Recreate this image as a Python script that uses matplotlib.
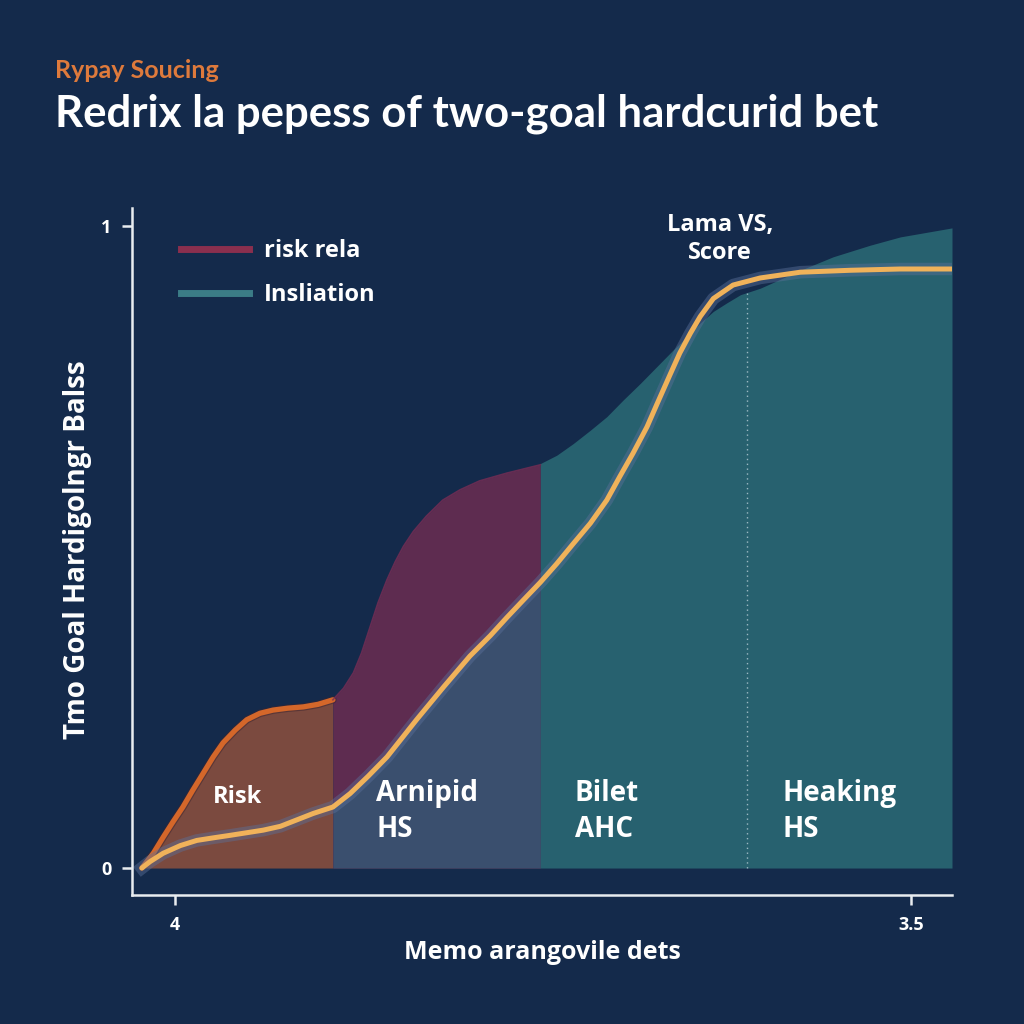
import numpy as np
import matplotlib
matplotlib.use('Agg')
import matplotlib.pyplot as plt
from matplotlib.lines import Line2D

plt.rcParams['font.family'] = ['Open Sans', 'DejaVu Sans']

# values (x on a 0-100 scale, y on 0-1)
risk_x = [1.2, 2.6, 3.8, 5.0, 6.2, 7.4, 8.7, 9.9, 11.1, 12.6, 14.0, 15.6, 17.2, 19.0, 20.9, 22.7, 24.5]
risk_y = [0.0, 0.023, 0.048, 0.072, 0.095, 0.121, 0.148, 0.173, 0.195, 0.215, 0.231, 0.241,
          0.246, 0.249, 0.251, 0.255, 0.262]

rela_x = [24.5, 25.8, 27.0, 28.0, 29.0, 30.0, 31.1, 32.1, 33.1, 34.3, 35.9, 37.9, 40.0, 42.4, 45.7, 49.8]
rela_y = [0.262, 0.280, 0.304, 0.335, 0.374, 0.413, 0.449, 0.477, 0.501, 0.524, 0.548, 0.573,
          0.589, 0.603, 0.615, 0.628]

insl_x = [49.8, 51.8, 53.8, 55.9, 57.9, 59.9, 62.0, 64.0, 66.0, 67.7, 69.3, 70.9, 72.5, 74.2,
          76.6, 81.5, 85.5, 90.0, 93.7, 100]
insl_y = [0.630, 0.643, 0.661, 0.682, 0.703, 0.729, 0.755, 0.781, 0.807, 0.828, 0.849, 0.867,
          0.880, 0.893, 0.903, 0.931, 0.952, 0.970, 0.983, 0.997]

score_x = [1.2, 2.2, 3.8, 5.9, 7.9, 9.9, 12.0, 14.0, 16.0, 18.1, 20.1, 22.1, 24.5, 26.6, 28.8,
           31.1, 34.7, 38.0, 41.2, 43.7, 45.7, 47.7, 49.8, 51.8, 53.8, 55.9, 57.9, 59.5, 61.1,
           62.8, 64.0, 65.6, 66.8, 68.1, 69.3, 70.9, 73.3, 76.6, 81.5, 87.6, 93.7, 100]
score_y = [0.0, 0.010, 0.023, 0.035, 0.043, 0.047, 0.051, 0.055, 0.059, 0.065, 0.075, 0.085,
           0.095, 0.116, 0.143, 0.173, 0.231, 0.282, 0.330, 0.362, 0.390, 0.417, 0.445, 0.474,
           0.505, 0.537, 0.573, 0.610, 0.646, 0.687, 0.722, 0.768, 0.802, 0.833, 0.859, 0.887,
           0.908, 0.919, 0.928, 0.931, 0.933, 0.933]

split_lo, split_hi = 24.5, 49.8
marker_x = 75.0

x_ticks = [5.2, 95.0]
x_tick_labels = ['4', '3.5']
y_ticks = [0, 1]
y_tick_labels = ['0', '1']

legend_labels = ['risk rela', 'Insliation']

bg = '#142a4b'
c_orange_fill = '#7b4a3f'
c_orange_edge = '#d4672a'
c_maroon = '#5e2c50'
c_slate = '#3a4f6e'
c_teal = '#27616f'
c_yellow = '#f0b25a'

fig = plt.figure(figsize=(10.24, 10.24), dpi=100, facecolor=bg)
ax = fig.add_axes([132 / 1024, 129 / 1024, 820 / 1024, 687 / 1024])
ax.set_facecolor(bg)

# stacked regions
ax.fill_between(risk_x, 0, risk_y, color=c_orange_fill, lw=0)
ax.plot(risk_x, risk_y, color='#3a2430', lw=5.5, alpha=0.5, solid_capstyle='round')
ax.plot(risk_x, risk_y, color=c_orange_edge, lw=3.8, solid_capstyle='round')
ax.fill_between(rela_x, 0, rela_y, color=c_maroon, lw=0)
ax.plot(rela_x, rela_y, color='#7a2d55', lw=1.2, alpha=0.8)

sx = np.array(score_x)
sy = np.array(score_y)
m = (sx >= split_lo) & (sx <= split_hi)
ax.fill_between(sx[m], 0, sy[m], color=c_slate, lw=0)

ax.fill_between(insl_x, 0, insl_y, color=c_teal, lw=0)

# score line with soft glow
ax.plot(score_x, score_y, color='#5b7099', lw=9, alpha=0.45, solid_joinstyle='round')
ax.plot(score_x, score_y, color=c_yellow, lw=3.6, solid_joinstyle='round', solid_capstyle='round')

# dotted marker
ax.vlines(marker_x, 0, 0.9, colors='#cfe0e8', linestyles=(0, (1, 2.5)), lw=1, alpha=0.7)

ax.set_xlim(0, 100)
ax.set_ylim(-0.042, 1.028)

for s in ['top', 'right']:
    ax.spines[s].set_visible(False)
for s in ['left', 'bottom']:
    ax.spines[s].set_color('#e8ecf0')
    ax.spines[s].set_linewidth(1.8)

ax.set_xticks(x_ticks)
ax.set_xticklabels(x_tick_labels)
ax.set_yticks(y_ticks)
ax.set_yticklabels(y_tick_labels)
ax.tick_params(colors='#e8ecf0', width=1.8, length=7, labelsize=13, pad=8)
for lbl in ax.get_xticklabels() + ax.get_yticklabels():
    lbl.set_fontweight('bold')
    lbl.set_color('white')

ax.set_xlabel('Memo arangovile dets', color='white', fontsize=18, fontweight='bold')
ax.xaxis.set_label_coords(0.5, -0.084)
ax.xaxis.label.set_va('center')
ax.set_ylabel('Tmo Goal Hardigolngr Balss', color='white', fontsize=20, fontweight='bold')
ax.yaxis.set_label_coords(-0.066, 0.502)
ax.yaxis.label.set_va('center')

# region labels
ax.text(12.9, 0.111, 'Risk', color='white', fontsize=17, fontweight='bold', ha='center', va='center')
ax.text(29.8, 0.088, 'Arnipid\nHS', color='white', fontsize=20, fontweight='bold',
        ha='left', va='center', linespacing=1.3)
ax.text(54.0, 0.088, 'Bilet\nAHC', color='white', fontsize=20, fontweight='bold',
        ha='left', va='center', linespacing=1.3)
ax.text(79.3, 0.088, 'Heaking\nHS', color='white', fontsize=20, fontweight='bold',
        ha='left', va='center', linespacing=1.3)
ax.text(71.7, 0.980, 'Lama VS,\nScore', color='white', fontsize=17, fontweight='bold',
        ha='center', va='center', linespacing=1.25)

handles = [Line2D([], [], color='#8a2f4e', lw=5), Line2D([], [], color='#3b7c86', lw=5)]
leg = ax.legend(handles, legend_labels, loc='upper left', bbox_to_anchor=(181 / 1024, 1 - 239 / 1024),
                bbox_transform=fig.transFigure, frameon=False, borderpad=0, borderaxespad=0,
                handlelength=2.9, handletextpad=0.6, labelspacing=0.85,
                prop={'weight': 'bold', 'size': 17})
for t in leg.get_texts():
    t.set_color('white')

fig.text(55 / 1024, 1 - 78 / 1024, 'Rypay Soucing', color='#de7a3c', fontsize=18,
         fontweight='bold', family='Lato', va='baseline')
fig.text(55 / 1024, 1 - 127 / 1024, 'Redrix la pepess of two-goal hardcurid bet', color='white',
         fontsize=31.5, fontweight='bold', family='Lato', va='baseline')

fig.savefig('out.png', dpi=100, facecolor=bg)
